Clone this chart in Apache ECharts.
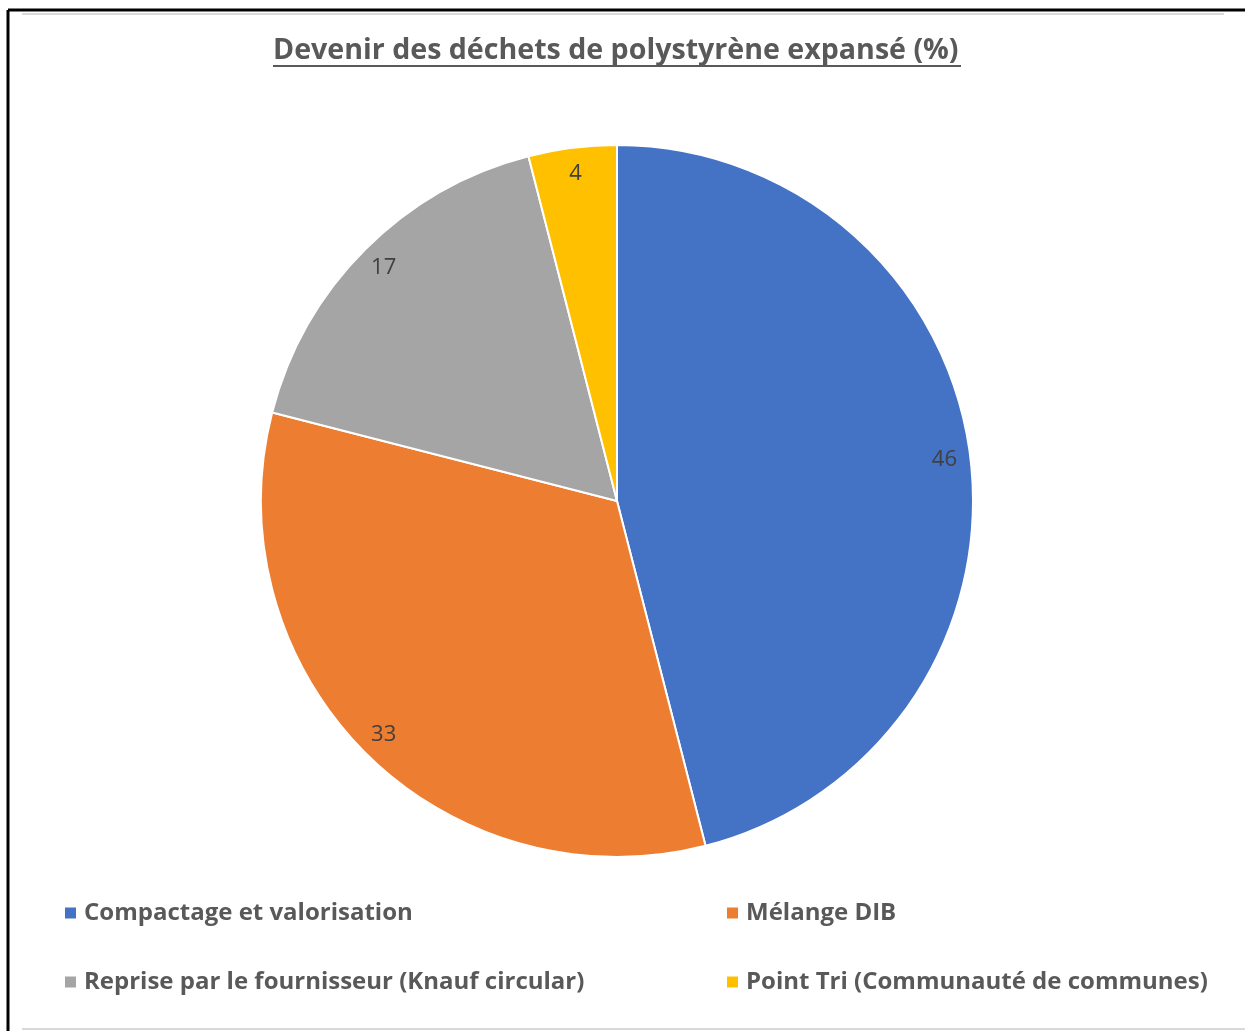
<!DOCTYPE html>
<html>
<head>
<meta charset="utf-8">
<script src="https://cdn.jsdelivr.net/npm/echarts@6/dist/echarts.min.js"></script>
<style>
  html, body { margin: 0; padding: 0; background: #fff; }
  #show { width: 1245px; height: 1031px; }
</style>
</head>
<body>
<div id="show"></div>
<script>
var myChart = echarts.init(document.getElementById("show"));

var categories = [
    "Compactage et valorisation",
    "Mélange DIB",
    "Reprise par le fournisseur (Knauf circular)",
    "Point Tri (Communauté de communes)"
];
var values = [46, 33, 17, 4];
var colors = ["#4472C4", "#ED7D31", "#A5A5A5", "#FFC000"];

var font = "'Open Sans', sans-serif";

var pieData = categories.map(function (name, i) {
    return { name: name, value: values[i], itemStyle: { color: colors[i] } };
});

var legendText = { fontFamily: font, fontSize: 24, fontWeight: "bold", color: "#595959", padding: [0, 0, 0, 2] };

myChart.setOption({
    animation: false,
    title: {
        text: "Devenir des déchets de polystyrène expansé (%)",
        left: 268,
        top: 31,
        textStyle: { fontFamily: font, fontSize: 28.6, fontWeight: "bold", color: "#595959" }
    },
    legend: [
        {
            data: [categories[0], categories[2]],
            orient: "vertical",
            left: 58,
            top: 896,
            itemGap: 45,
            itemWidth: 13,
            itemHeight: 13,
            icon: "rect",
            textStyle: legendText
        },
        {
            data: [categories[1], categories[3]],
            orient: "vertical",
            left: 720,
            top: 896,
            itemGap: 45,
            itemWidth: 13,
            itemHeight: 13,
            icon: "rect",
            textStyle: legendText
        }
    ],
    graphic: [
        { type: "line", shape: { x1: 8, y1: 10, x2: 1245, y2: 10 }, style: { stroke: "#000", lineWidth: 3 } },
        { type: "line", shape: { x1: 8, y1: 10, x2: 8, y2: 1031 }, style: { stroke: "#000", lineWidth: 3 } },
        { type: "line", shape: { x1: 22, y1: 14, x2: 1224, y2: 14 }, style: { stroke: "#d9d9d9", lineWidth: 2 } },
        { type: "line", shape: { x1: 22, y1: 1029, x2: 1245, y2: 1029 }, style: { stroke: "#d9d9d9", lineWidth: 2 } },
        { type: "line", shape: { x1: 273, y1: 66, x2: 961, y2: 66 }, style: { stroke: "#595959", lineWidth: 2 } }
    ],
    series: [
        {
            type: "pie",
            center: [617, 501],
            radius: [0, 356],
            startAngle: 90,
            clockwise: true,
            data: pieData,
            label: { show: false },
            labelLine: { show: false },
            itemStyle: { borderColor: "#fff", borderWidth: 2 },
            emphasis: { disabled: true }
        },
        {
            type: "pie",
            center: [617, 501],
            radius: [292, 362],
            startAngle: 90,
            clockwise: true,
            silent: true,
            data: pieData.map(function (d) {
                return { name: d.name, value: d.value, itemStyle: { color: "rgba(0,0,0,0)" } };
            }),
            label: {
                show: true,
                position: "inside",
                formatter: "{c}",
                fontFamily: font,
                fontSize: 22,
                color: "#404040"
            },
            labelLine: { show: false },
            emphasis: { disabled: true }
        }
    ]
});
</script>
</body>
</html>
